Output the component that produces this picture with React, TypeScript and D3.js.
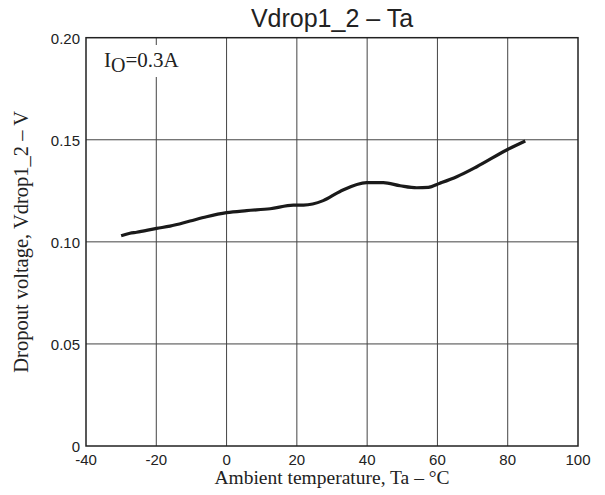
import React from "react";
import * as d3 from "d3";

const temps = [-30, -27.5, -25.6, -19.9, -16.1, -10.4, -5.7, 0, 5.7, 12.4, 19, 21.9, 27.5, 32.3, 39.9, 44.6, 49.4, 54.1, 57.4, 60.7, 65.5, 71.2, 79.7, 85];
const vdrop = [0.103, 0.1042, 0.1047, 0.1066, 0.1077, 0.1102, 0.1123, 0.1143, 0.1153, 0.1162, 0.118, 0.118, 0.1202, 0.1247, 0.129, 0.129, 0.1275, 0.1265, 0.1267, 0.1287, 0.1319, 0.1368, 0.145, 0.1494];
const xTicks = [-40, -20, 0, 20, 40, 60, 80, 100];
const yTicks = [0, 0.05, 0.1, 0.15, 0.2];
const yTickLabels = ["0", "0.05", "0.10", "0.15", "0.20"];

const W = 605, H = 495;
const L = 86, R = 578, T = 37.7, B = 446;

export default function App() {
  const x = d3.scaleLinear().domain([-40, 100]).range([L, R]);
  const y = d3.scaleLinear().domain([0, 0.2]).range([B, T]);
  const pts = temps.map((t, i) => [t, vdrop[i]] as [number, number]);
  const line = d3.line<[number, number]>().x(d => x(d[0])).y(d => y(d[1])).curve(d3.curveMonotoneX);
  const sans = "'Liberation Sans', Arial, sans-serif";
  const serif = "'Liberation Serif', 'Times New Roman', serif";
  return (
    <svg width={W} height={H} style={{ position: "absolute", left: 0, top: 0, background: "#fff" }}>
      <rect x={0} y={0} width={W} height={H} fill="#fff" />
      {xTicks.slice(1, -1).map(t => (
        <line key={"gx" + t} x1={x(t)} x2={x(t)} y1={T} y2={B} stroke="#444" strokeWidth={1} />
      ))}
      {yTicks.slice(1, -1).map(t => (
        <line key={"gy" + t} x1={L} x2={R} y1={y(t)} y2={y(t)} stroke="#444" strokeWidth={1} />
      ))}
      <rect x={L} y={T} width={R - L} height={B - T} fill="none" stroke="#222" strokeWidth={1.5} />
      <rect x={100} y={45} width={92} height={32} fill="#fff" />
      <path d={line(pts) || ""} fill="none" stroke="#1a1a1a" strokeWidth={3.2} strokeLinejoin="round" />
      {xTicks.map(t => (
        <text key={"xt" + t} x={x(t)} y={465} textAnchor="middle" fontFamily={sans} fontSize={15} fill="#222">{t}</text>
      ))}
      {yTicks.map((t, i) => (
        <text key={"yt" + t} x={80} y={y(t) + 6} textAnchor="end" fontFamily={sans} fontSize={15} fill="#222">{yTickLabels[i]}</text>
      ))}
      <text x={(L + R) / 2} y={27} textAnchor="middle" fontFamily={sans} fontSize={25} fill="#222">Vdrop1_2 – Ta</text>
      <text x={(L + R) / 2} y={484} textAnchor="middle" fontFamily={serif} fontSize={19.5} fill="#222">Ambient temperature, Ta – °C</text>
      <text transform={`translate(28,${(T + B) / 2}) rotate(-90)`} textAnchor="middle" fontFamily={serif} fontSize={20.5} fill="#222">Dropout voltage,  Vdrop1_2 – V</text>
      <text x={104} y={67} fontFamily={serif} fontSize={21} fill="#222">I<tspan fontSize={20} dy={5}>O</tspan><tspan dy={-5}>=0.3A</tspan></text>
    </svg>
  );
}
